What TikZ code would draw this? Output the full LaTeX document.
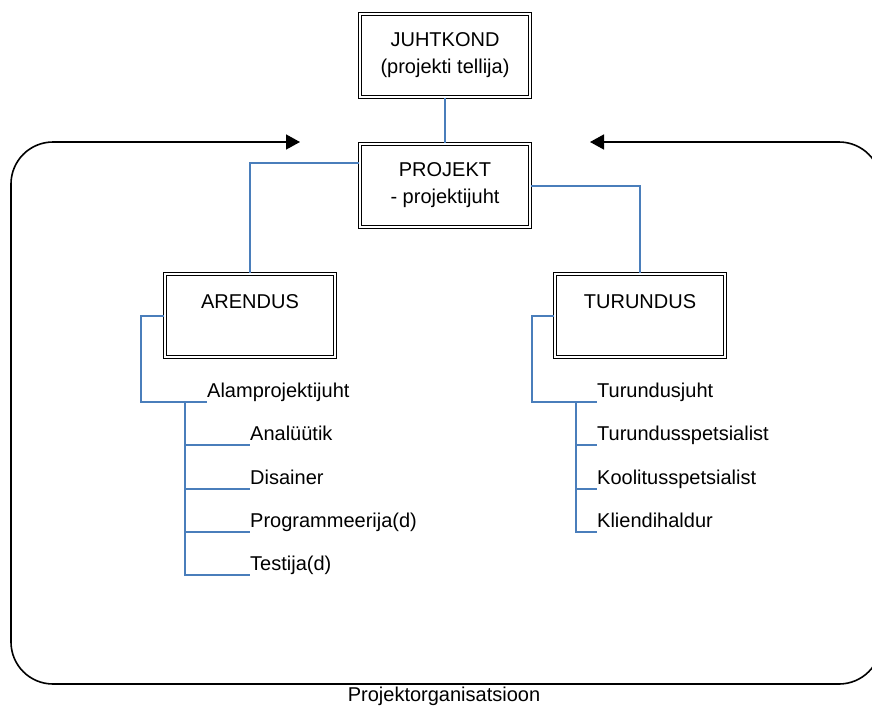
\documentclass[tikz,border=0pt]{standalone}
\usepackage{fontspec}
\setmainfont{Liberation Sans}
\usetikzlibrary{arrows.meta}
\definecolor{linkblue}{HTML}{4A7EBB}
\tikzset{
  dbox/.style={draw, double, double distance=2pt, line width=1.1pt,
    minimum width=170pt, minimum height=83pt, align=center, inner sep=0pt},
  link/.style={draw=linkblue, line width=1.8pt},
  frame/.style={draw=black, line width=1.6pt},
  item/.style={anchor=base west, inner sep=0pt},
  bigtri/.tip={Triangle[length=14pt,width=15pt]}
}
\begin{document}
\begin{tikzpicture}[x=1pt, y=-1pt, font=\fontsize{20}{27}\selectfont]
\useasboundingbox (0,0) rectangle (872,707);
\clip (0,0) rectangle (872,707);

% outer frame with arrows
\coordinate (fl) at (300,142);
\coordinate (fr) at (590,142);
\draw[frame, rounded corners=42pt, bigtri-bigtri] (fl) -| (11,684) -| (881,142) -- (fr);

% boxes
\node[dbox] (juht) at (445,55.5) {JUHTKOND\\(projekti tellija)};
\node[dbox] (proj) at (445,185.5) {PROJEKT\\- projektijuht};
\node[dbox] (aren) at (250,315.5) {ARENDUS\\\phantom{A}};
\node[dbox] (turu) at (640,315.5) {TURUNDUS\\\phantom{A}};

\draw[link] (juht.south) -- (proj.north);
\draw[link] ([yshift=22.5pt]proj.west) -| (aren.north);
\draw[link] ([yshift=-0.5pt]proj.east) -| (turu.north);

% ARENDUS items
\node[item] (a0) at (207,397) {Alamprojektijuht};
\node[item] (a1) at (250,440) {Analüütik};
\node[item] (a2) at (250,484) {Disainer};
\node[item] (a3) at (250,527) {Programmeerija(d)};
\node[item] (a4) at (250,570) {Testija(d)};
\coordinate (al) at (141,402);
\coordinate (av) at (185,402);
\draw[link] ([yshift=-0.5pt]aren.west) -| (al) -- ([yshift=-5pt]a0.base west);
\draw[link] (av) |- ([yshift=-5pt]a4.base west);
\draw[link] (av |- a1.base) ++(0,5) -- ([yshift=-5pt]a1.base west);
\draw[link] (av |- a2.base) ++(0,5) -- ([yshift=-5pt]a2.base west);
\draw[link] (av |- a3.base) ++(0,5) -- ([yshift=-5pt]a3.base west);

% TURUNDUS items
\node[item] (t0) at (597,397) {Turundusjuht};
\node[item] (t1) at (597,440) {Turundusspetsialist};
\node[item] (t2) at (597,484) {Koolitusspetsialist};
\node[item] (t3) at (597,527) {Kliendihaldur};
\coordinate (tl) at (532,402);
\coordinate (tv) at (576,402);
\draw[link] ([yshift=-0.5pt]turu.west) -| (tl) -- ([yshift=-5pt]t0.base west);
\draw[link] (tv) |- ([yshift=-5pt]t3.base west);
\draw[link] (tv |- t1.base) ++(0,5) -- ([yshift=-5pt]t1.base west);
\draw[link] (tv |- t2.base) ++(0,5) -- ([yshift=-5pt]t2.base west);

\node[anchor=base, inner sep=0pt] (cap) at (444,701) {Projektorganisatsioon};
\end{tikzpicture}
\end{document}
